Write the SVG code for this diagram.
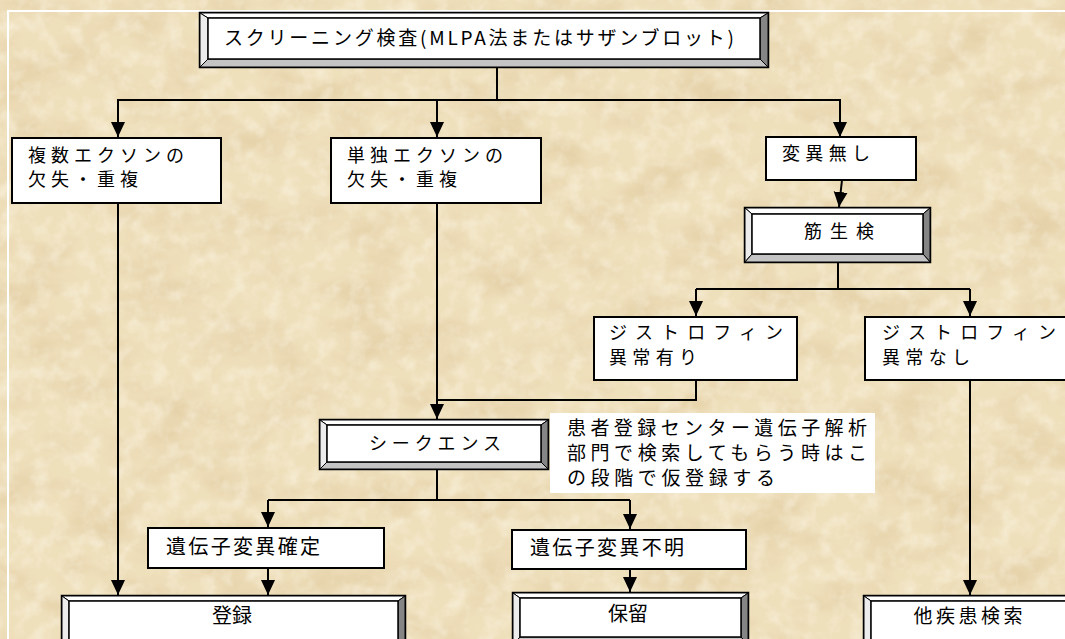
<svg xmlns="http://www.w3.org/2000/svg" width="1065" height="639" viewBox="0 0 1065 639">
<style>
.t{font-family:"Noto Sans CJK JP","Noto Sans",sans-serif;fill:#000;}
.m{font-size:18px;}
.g{font-size:20px;}
.n{font-size:19px;}
.box{fill:#fff;stroke:#000;stroke-width:2;}
.outer{fill:#808080;stroke:#000;stroke-width:2.5;}
.bt{fill:#fff;stroke:#000;stroke-width:1;}
.bl{fill:#ececec;stroke:#000;stroke-width:1;}
.br{fill:#858585;stroke:#000;stroke-width:1;}
.bb{fill:#c4c4c4;stroke:#000;stroke-width:1;}
.inner{fill:#fff;stroke:#000;stroke-width:1.5;}
.c{fill:none;stroke:#000;stroke-width:2;}
.a{marker-end:url(#ah);}
</style>
<defs>
<marker id="ah" markerUnits="userSpaceOnUse" markerWidth="16" markerHeight="16" refX="15" refY="7" orient="auto">
<path d="M0,0 L15,7 L0,14 z" fill="#000"/>
</marker>
<filter id="paper" x="0" y="0" width="100%" height="100%">
<feTurbulence type="fractalNoise" baseFrequency="0.015 0.025" numOctaves="4" seed="7"/>
<feColorMatrix type="matrix" values="0 0 0 0 0.72  0 0 0 0 0.56  0 0 0 0 0.32  1.3 0 0 0 -0.55"/>
</filter>
<filter id="paper2" x="0" y="0" width="100%" height="100%">
<feTurbulence type="fractalNoise" baseFrequency="0.06" numOctaves="3" seed="2"/>
<feColorMatrix type="matrix" values="0 0 0 0 1  0 0 0 0 0.97  0 0 0 0 0.88  1.6 0 0 0 -0.7"/>
</filter>
</defs>
<g id="background">
<rect x="0" y="0" width="1065" height="639" fill="#efe0bc"/>
<rect x="0" y="0" width="1065" height="639" filter="url(#paper)"/>
<rect x="0" y="0" width="1065" height="639" filter="url(#paper2)" opacity="0.6"/>
<path d="M8,639 V11 H1065" fill="none" stroke="#fff" stroke-width="2"/>
</g>
<g id="connectors">
<path class="c" d="M497,67 V100"/>
<path class="c a" d="M497,100 H118 V137"/>
<path class="c a" d="M497,100 H840 V137"/>
<path class="c a" d="M437,100 V137"/>
<path class="c a" d="M842,180 L839,207"/>
<path class="c" d="M838,262 V289 M696,289 H970"/>
<path class="c a" d="M696,289 V316"/>
<path class="c a" d="M970,289 V316"/>
<path class="c a" d="M118,203 V595"/>
<path class="c a" d="M437,203 V419"/>
<path class="c" d="M696,380 V400 H437"/>
<path class="c a" d="M970,380 V595"/>
<path class="c" d="M437,469 V500 M268,500 H630"/>
<path class="c a" d="M268,500 V527"/>
<path class="c a" d="M630,500 V529"/>
<path class="c a" d="M268,568 V595"/>
<path class="c a" d="M630,569 V592"/>
</g>
<g id="n-screening">
<rect class="outer" x="200" y="13" width="568" height="54"/>
<polygon class="bt" points="200,13 768,13 760,18 208,18"/>
<polygon class="bl" points="200,13 208,18 208,59 200,67"/>
<polygon class="br" points="768,13 768,67 760,59 760,18"/>
<polygon class="bb" points="200,67 208,59 760,59 768,67"/>
<rect class="inner" x="208" y="18" width="552" height="41"/>
<text class="t" x="224" y="45" font-size="19" textLength="510" lengthAdjust="spacing">スクリーニング検査(MLPA法またはサザンブロット)</text>
</g>
<g id="n-multi">
<rect class="box" x="12" y="138" width="209" height="65"/>
<text class="t m" x="28" y="162" textLength="156" lengthAdjust="spacing">複数エクソンの</text>
<text class="t m" x="28" y="186" textLength="110" lengthAdjust="spacing">欠失・重複</text>
</g>
<g id="n-single">
<rect class="box" x="331" y="138" width="210" height="65"/>
<text class="t m" x="347" y="162" textLength="156" lengthAdjust="spacing">単独エクソンの</text>
<text class="t m" x="347" y="186" textLength="110" lengthAdjust="spacing">欠失・重複</text>
</g>
<g id="n-none">
<rect class="box" x="766" y="137" width="150" height="43"/>
<text class="t m" x="782" y="160" textLength="88" lengthAdjust="spacing">変異無し</text>
</g>
<g id="n-biopsy">
<rect class="outer" x="745" y="208" width="185" height="54"/>
<polygon class="bt" points="745,208 930,208 923,214 752,214"/>
<polygon class="bl" points="745,208 752,214 752,254 745,262"/>
<polygon class="br" points="930,208 930,262 923,254 923,214"/>
<polygon class="bb" points="745,262 752,254 923,254 930,262"/>
<rect class="inner" x="752" y="214" width="171" height="40"/>
<text class="t m" x="839" y="238" text-anchor="middle" textLength="70" lengthAdjust="spacing">筋生検</text>
</g>
<g id="n-dys-yes">
<rect class="box" x="594" y="317" width="203" height="63"/>
<text class="t m" x="609" y="339" textLength="174" lengthAdjust="spacing">ジストロフィン</text>
<text class="t m" x="609" y="364" textLength="88" lengthAdjust="spacing">異常有り</text>
</g>
<g id="n-dys-no">
<rect class="box" x="865" y="317" width="210" height="63"/>
<text class="t m" x="882" y="339" textLength="174" lengthAdjust="spacing">ジストロフィン</text>
<text class="t m" x="882" y="364" textLength="88" lengthAdjust="spacing">異常なし</text>
</g>
<g id="n-sequence">
<rect class="outer" x="320" y="420" width="228" height="49"/>
<polygon class="bt" points="320,420 548,420 541,425 327,425"/>
<polygon class="bl" points="320,420 327,425 327,462 320,469"/>
<polygon class="br" points="548,420 548,469 541,462 541,425"/>
<polygon class="bb" points="320,469 327,462 541,462 548,469"/>
<rect class="inner" x="327" y="425" width="214" height="37"/>
<text class="t m" x="369" y="450" textLength="132" lengthAdjust="spacing">シークエンス</text>
</g>
<g id="n-note">
<rect x="550" y="413" width="325" height="80" fill="#fff"/>
<text class="t n" x="567" y="435" textLength="300" lengthAdjust="spacing">患者登録センター遺伝子解析</text>
<text class="t n" x="567" y="460" textLength="300" lengthAdjust="spacing">部門で検索してもらう時はこ</text>
<text class="t n" x="567" y="485" textLength="208" lengthAdjust="spacing">の段階で仮登録する</text>
</g>
<g id="n-confirmed">
<rect class="box" x="148" y="528" width="236" height="40"/>
<text class="t g" x="166" y="554" textLength="154" lengthAdjust="spacing">遺伝子変異確定</text>
</g>
<g id="n-unknown">
<rect class="box" x="512" y="530" width="234" height="39"/>
<text class="t g" x="530" y="555" textLength="154" lengthAdjust="spacing">遺伝子変異不明</text>
</g>
<g id="n-register">
<rect class="outer" x="62" y="596" width="343" height="52"/>
<polygon class="bt" points="62,596 405,596 398,601 69,601"/>
<polygon class="bl" points="62,596 69,601 69,640 62,648"/>
<polygon class="br" points="405,596 405,648 398,640 398,601"/>
<polygon class="bb" points="62,648 69,640 398,640 405,648"/>
<rect class="inner" x="69" y="601" width="329" height="39"/>
<text class="t g" x="232" y="623" text-anchor="middle">登録</text>
</g>
<g id="n-hold">
<rect class="outer" x="513" y="593" width="235" height="52"/>
<polygon class="bt" points="513,593 748,593 741,598 520,598"/>
<polygon class="bl" points="513,593 520,598 520,637 513,645"/>
<polygon class="br" points="748,593 748,645 741,637 741,598"/>
<polygon class="bb" points="513,645 520,637 741,637 748,645"/>
<rect class="inner" x="520" y="598" width="221" height="39"/>
<text class="t g" x="628" y="621" text-anchor="middle">保留</text>
</g>
<g id="n-other">
<rect class="outer" x="864" y="596" width="215" height="52"/>
<polygon class="bt" points="864,596 1079,596 1072,601 871,601"/>
<polygon class="bl" points="864,596 871,601 871,640 864,648"/>
<rect class="inner" x="871" y="601" width="201" height="39"/>
<text class="t" x="968" y="623" font-size="19" text-anchor="middle" textLength="109" lengthAdjust="spacing">他疾患検索</text>
</g>
</svg>
